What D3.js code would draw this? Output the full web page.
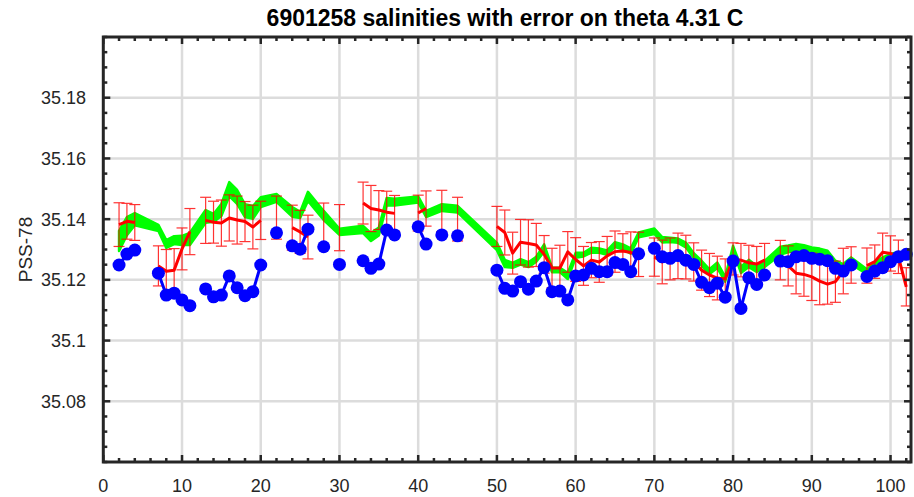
<!DOCTYPE html>
<html><head><meta charset="utf-8">
<script src="https://cdn.jsdelivr.net/npm/d3@7"></script>
<style>body{margin:0;background:#fff}svg{display:block}text{font-family:"Liberation Sans",Arial,Helvetica,sans-serif}</style>
</head><body><svg id="chart" width="914" height="497"></svg>
<script>
const titleText = "6901258 salinities with error on theta 4.31 C";
const yLabelText = "PSS-78";
const xDomain = [0, 102.6];
const yDomain = [35.06, 35.2];
const xTicks = [0,10,20,30,40,50,60,70,80,90,100];
const xTickLabels = ["0","10","20","30","40","50","60","70","80","90","100"];
const yTicks = [35.08,35.1,35.12,35.14,35.16,35.18];
const yTickLabels = ["35.08","35.1","35.12","35.14","35.16","35.18"];

const profiles = [2,3,4, 7,8,9,10,11, 13,14,15,16,17,18,19,20, 22, 24,25,26, 28, 30, 33,34,35,36,37, 40,41, 43, 45,
  50,51,52,53,54,55,56,57,58,59,60,61,62,63,64,65,66,67,68,
  70,71,72,73,74,75,76,77,78,79,80,81,82,83,84,
  86,87,88,89,90,91,92,93,94,95,
  97,98,99,100,101,102];

const floatSal = [35.1249,35.1285,35.1298,
  35.1222,35.1150,35.1156,35.1134,35.1115,
  35.1170,35.1144,35.1150,35.1213,35.1174,35.1148,35.1161,35.1249,
  35.1355,
  35.1312,35.1301,35.1367,
  35.1309,
  35.1251,
  35.1263,35.1238,35.1252,35.1364,35.1348,
  35.1375,35.1318,
  35.1348,
  35.1345,
  35.1232,35.1172,35.1163,35.1194,35.1169,35.1196,35.1240,35.1161,35.1163,35.1134,35.1213,35.1216,35.1238,35.1227,35.1227,35.1257,35.1251,35.1227,35.1286,
  35.1304,35.1276,35.1271,35.1280,35.1265,35.1251,35.1192,35.1174,35.1189,35.1143,35.1262,35.1106,35.1207,35.1185,35.1216,
  35.1262,35.1260,35.1276,35.1280,35.1271,35.1268,35.1263,35.1238,35.1229,35.1249,
  35.1211,35.1229,35.1240,35.1260,35.1276,35.1284];

const calSal = [35.1382,35.1393,35.1389,
  35.1246,35.1228,35.1232,35.1302,35.1359,
  35.1396,35.1390,35.1387,35.1404,35.1397,35.1392,35.1374,35.1396,
  35.1405,
  35.1372,35.1358,35.1341,
  35.1384,
  35.1372,
  35.1453,35.1435,35.1430,35.1423,35.1419,
  35.1420,35.1435,
  35.1427,
  35.1400,
  35.1376,35.1356,35.1288,35.1324,35.1320,35.1315,35.1284,35.1239,35.1239,35.1292,35.1267,35.1246,35.1265,35.1259,35.1279,35.1293,35.1295,35.1290,35.1284,
  35.1275,35.1259,35.1269,35.1279,35.1275,35.1259,35.1232,35.1216,35.1206,35.1203,35.1269,35.1265,35.1256,35.1252,35.1265,
  35.1265,35.1246,35.1222,35.1218,35.1210,35.1196,35.1186,35.1194,35.1229,35.1249,
  35.1247,35.1260,35.1291,35.1287,35.1276,35.1177];

const calErr = [0.0072,0.0059,0.0059,
  0.0066,0.0072,0.0071,0.0069,0.0076,
  0.0076,0.0069,0.0076,0.0076,0.0079,0.0066,0.0072,0.0063,
  0.0071,
  0.0074,0.0071,0.0072,
  0.0069,
  0.0076,
  0.0069,0.0076,0.0064,0.0069,0.0059,
  0.0059,0.0058,
  0.0068,
  0.0072,
  0.0066,0.0074,0.0069,0.0075,0.0078,0.0071,0.0062,0.0065,0.0075,0.0067,0.0072,0.0064,0.0058,0.0067,0.0064,0.0068,0.0057,0.0068,0.0073,
  0.0063,0.0072,0.0069,0.0075,0.0072,0.0063,0.0066,0.0071,0.0072,0.0066,0.0053,0.0055,0.0058,0.0058,0.0055,
  0.0065,0.0066,0.0068,0.0072,0.0078,0.0078,0.0066,0.0068,0.0075,0.0060,
  0.0058,0.0055,0.0063,0.0058,0.0055,0.0063];

const mapSal = [35.1328,35.1377,35.1400,
  35.1371,35.1318,35.1331,35.1330,35.1335,
  35.1409,35.1404,35.1430,35.1499,35.1473,35.1428,35.1422,35.1456,
  35.1470,
  35.1424,35.1414,35.1475,
  35.1412,
  35.1358,
  35.1366,35.1341,35.1359,35.1458,35.1456,
  35.1465,35.1417,
  35.1438,
  35.1433,
  35.1310,35.1254,35.1248,35.1259,35.1250,35.1268,35.1305,35.1233,35.1233,35.1213,35.1281,35.1283,35.1298,35.1296,35.1290,35.1316,35.1309,35.1295,35.1348,
  35.1360,35.1332,35.1332,35.1329,35.1315,35.1280,35.1255,35.1227,35.1248,35.1202,35.1304,35.1233,35.1254,35.1236,35.1252,
  35.1296,35.1302,35.1307,35.1304,35.1296,35.1293,35.1285,35.1252,35.1241,35.1263,
  35.1227,35.1244,35.1263,35.1274,35.1280,35.1279];

const mapErr = [0.0033,0.0030,0.0020,
  0.0010,0.0013,0.0013,0.0015,0.0020,
  0.0021,0.0013,0.0020,0.0023,0.0023,0.0021,0.0021,0.0016,
  0.0013,
  0.0016,0.0010,0.0015,
  0.0015,
  0.0010,
  0.0012,0.0013,0.0013,0.0012,0.0011,
  0.0010,0.0010,
  0.0011,
  0.0011,
  0.0012,0.0012,0.0008,0.0009,0.0008,0.0008,0.0012,0.0008,0.0007,0.0010,0.0008,0.0006,0.0008,0.0007,0.0007,0.0008,0.0008,0.0009,0.0008,
  0.0009,0.0009,0.0007,0.0007,0.0008,0.0008,0.0008,0.0008,0.0009,0.0008,0.0008,0.0010,0.0012,0.0010,0.0010,
  0.0013,0.0011,0.0011,0.0010,0.0011,0.0010,0.0011,0.0011,0.0011,0.0011,
  0.0008,0.0012,0.0011,0.0011,0.0012,0.0010];

const L = 103.3, R = 911, T = 37, B = 462;
const axisColor = "#262626";
const svg = d3.select("#chart");
const x = d3.scaleLinear().domain(xDomain).range([L, R]);
const y = d3.scaleLinear().domain(yDomain).range([B, T]);

const rows = profiles.map((p, i) => ({p, f: floatSal[i], c: calSal[i], e: calErr[i], m: mapSal[i], me: mapErr[i]}));
const segments = [];
rows.forEach((r, i) => {
  if (i === 0 || r.p - rows[i-1].p > 1) segments.push([]);
  segments[segments.length-1].push(r);
});

// grid
svg.append("g").selectAll("line").data(xTicks.slice(1)).join("line")
  .attr("x1", d => x(d)).attr("x2", d => x(d)).attr("y1", T).attr("y2", B)
  .attr("stroke", "#dcdcdc").attr("stroke-width", 2.5);
svg.append("g").selectAll("line").data(yTicks).join("line")
  .attr("x1", L).attr("x2", R).attr("y1", d => y(d)).attr("y2", d => y(d))
  .attr("stroke", "#dcdcdc").attr("stroke-width", 2.5);

// green mapped band
const area = d3.area().x(d => x(d.p)).y0(d => y(d.m - d.me)).y1(d => y(d.m + d.me));
svg.append("path").datum(rows).attr("d", area)
  .attr("fill", "#00ff00").attr("stroke", "#00ff00").attr("stroke-width", 2.5).attr("stroke-linejoin", "round");

// red error bars
const eb = svg.append("g").attr("stroke", "#ff0000").attr("stroke-width", 1.2).attr("opacity", 0.8);
eb.selectAll("line.v").data(rows).join("line").attr("class", "v")
  .attr("x1", d => x(d.p)).attr("x2", d => x(d.p)).attr("y1", d => y(d.c - d.e)).attr("y2", d => y(d.c + d.e));
eb.selectAll("line.t").data(rows).join("line").attr("class", "t")
  .attr("x1", d => x(d.p) - 5.5).attr("x2", d => x(d.p) + 5.5).attr("y1", d => y(d.c + d.e)).attr("y2", d => y(d.c + d.e));
eb.selectAll("line.b").data(rows).join("line").attr("class", "b")
  .attr("x1", d => x(d.p) - 5.5).attr("x2", d => x(d.p) + 5.5).attr("y1", d => y(d.c - d.e)).attr("y2", d => y(d.c - d.e));

// red calibrated line
const redLine = d3.line().x(d => x(d.p)).y(d => y(d.c));
svg.append("g").selectAll("path").data(segments.filter(s => s.length > 1)).join("path")
  .attr("d", redLine).attr("fill", "none").attr("stroke", "#ff0000").attr("stroke-width", 3).attr("stroke-linejoin", "round");

// blue float line + markers
const blueLine = d3.line().x(d => x(d.p)).y(d => y(d.f));
svg.append("g").selectAll("path").data(segments.filter(s => s.length > 1)).join("path")
  .attr("d", blueLine).attr("fill", "none").attr("stroke", "#0000ff").attr("stroke-width", 3).attr("stroke-linejoin", "round");
svg.append("g").selectAll("circle").data(rows).join("circle")
  .attr("cx", d => x(d.p)).attr("cy", d => y(d.f)).attr("r", 6.5).attr("fill", "#0000ff");

// axes box and ticks
const ax = svg.append("g").attr("stroke", axisColor).attr("stroke-width", 2.5);
const xMinor = d3.range(0, 103, 2), yMinor = d3.range(35.06, 35.2001, 0.005);
const isMajX = v => xTicks.includes(v);
const isMajY = v => yTicks.some(t => Math.abs(t - v) < 1e-6);
xMinor.forEach(v => {
  const len = isMajX(v) ? 7 : 4;
  ax.append("line").attr("x1", x(v)).attr("x2", x(v)).attr("y1", B).attr("y2", B - len);
  ax.append("line").attr("x1", x(v)).attr("x2", x(v)).attr("y1", T).attr("y2", T + len);
});
yMinor.forEach(v => {
  const len = isMajY(v) ? 7 : 4;
  ax.append("line").attr("x1", L).attr("x2", L + len).attr("y1", y(v)).attr("y2", y(v));
  ax.append("line").attr("x1", R).attr("x2", R - len).attr("y1", y(v)).attr("y2", y(v));
});
svg.append("rect").attr("x", L).attr("y", T).attr("width", R - L).attr("height", B - T)
  .attr("fill", "none").attr("stroke", axisColor).attr("stroke-width", 3);

// tick labels
svg.append("g").selectAll("text").data(xTicks).join("text")
  .attr("x", d => x(d)).attr("y", 492).attr("text-anchor", "middle")
  .attr("font-size", 18).attr("fill", axisColor).text((d, i) => xTickLabels[i]);
svg.append("g").selectAll("text").data(yTicks).join("text")
  .attr("x", 86).attr("y", d => y(d) + 6.5).attr("text-anchor", "end")
  .attr("font-size", 18).attr("fill", axisColor).text((d, i) => yTickLabels[i]);

// title and y label
svg.append("text").attr("x", 505).attr("y", 26).attr("text-anchor", "middle")
  .attr("font-size", 23).attr("font-weight", "bold").attr("fill", "#000").text(titleText);
svg.append("text").attr("transform", `translate(32,${(T + B) / 2}) rotate(-90)`).attr("text-anchor", "middle")
  .attr("font-size", 19).attr("fill", axisColor).text(yLabelText);
</script></body></html>
